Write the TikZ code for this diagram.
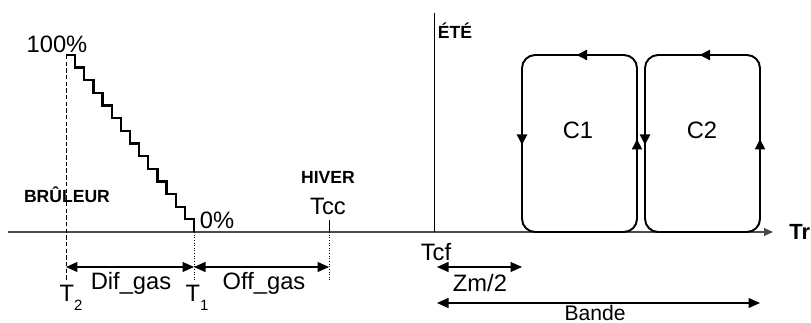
\documentclass[tikz,border=0pt]{standalone}
\usepackage{fontspec}
\setmainfont{Liberation Sans}
\usetikzlibrary{arrows.meta}

\begin{document}
\begin{tikzpicture}[x=0.02cm, y=-0.02cm, line width=0.6pt, >={Triangle[length=2.3mm, width=2mm]},
    lbl/.style={font=\fontsize{13.5}{15}\selectfont, inner sep=0pt},
    titre/.style={font=\fontsize{10}{12}\selectfont\bfseries, inner sep=0pt},
    boucle/.style={line width=1.1pt, rounded corners=7.5pt},
    fleche/.style={-{Triangle[length=2.1mm, width=2mm]}, line width=1.1pt},
    cote/.style={<->, line width=0.7pt}]
  \useasboundingbox (0,0) rectangle (811,323);
  % points de reference sur l'axe
  \coordinate (T2)  at (66,232);
  \coordinate (T1)  at (194,232);
  \coordinate (Tcc) at (329,232);
  \coordinate (Tcf) at (436,232);
  % --- axe des temperatures ---
  \draw[-{Triangle[length=1.8mm, width=1.6mm]}, black!70] (8,232) -- (773,232) node[right=9pt, font=\fontsize{12.5}{14}\selectfont\bfseries, inner sep=0pt, black]{Tr};
  % --- bruleur : escalier de 100% a 0% ---
  \draw[line width=1.3pt] (66,55) \foreach \k in {1,...,14} { -- ({66+9.143*\k},{55+12.643*(\k-1)}) -- ({66+9.143*\k},{55+12.643*\k}) };
  \draw[dash pattern=on 2.5pt off 1.3pt, line width=0.5pt] (66,55) -- (66,280);
  \draw[densely dotted, line width=0.5pt] (T1) -- (194,280);
  \node[lbl] at (57,44) {100\%};
  \node[lbl] at (217,220) {0\%};
  \node[titre] at (67,195) {BRÛLEUR};
  % --- hiver / ete ---
  \draw[line width=0.5pt] (329,220) -- (Tcc);
  \draw[densely dotted, line width=0.5pt] (Tcc) -- (329,280);
  \node[titre] at (328,177) {HIVER};
  \node[lbl] at (328,206) {Tcc};
  \draw[line width=0.5pt] (434,13) -- (434,232);
  \node[titre] at (455,31) {ÉTÉ};
  \node[lbl] at (436,252) {Tcf};
  % --- cycles C1 et C2 ---
  \draw[boucle] (522,55) rectangle (637,232);
  \draw[boucle] (645,55) rectangle (760,232);
  \foreach \xa/\xb in {522/637, 645/760} {
    \draw[fleche] ({(\xa+\xb)/2+4},55) -- ({(\xa+\xb)/2-3},55);
    \draw[fleche] (\xa,138) -- (\xa,145);
    \draw[fleche] (\xb,146) -- (\xb,139);
  }
  \node[lbl] at (578,130) {C1};
  \node[lbl] at (702,130) {C2};
  % --- cotes ---
  \draw[cote] (66,267) -- (194,267);
  \draw[cote] (194,267) -- (329,267);
  \draw[cote] (437,267) -- (522,267);
  \draw[cote] (437,303) -- (760,303);
  \node[lbl] at (131,283) {Dif\_gas};
  \node[lbl] at (264,283) {Off\_gas};
  \node[lbl] at (480,283) {Zm/2};
  \node[font=\fontsize{12}{13}\selectfont, inner sep=0pt] at (595,313) {Bande};
  \node[lbl] at (71,298) {T\raisebox{-0.7ex}{\fontsize{8.5}{9}\selectfont 2}};
  \node[lbl] at (197,298) {T\raisebox{-0.7ex}{\fontsize{8.5}{9}\selectfont 1}};
\end{tikzpicture}
\end{document}
